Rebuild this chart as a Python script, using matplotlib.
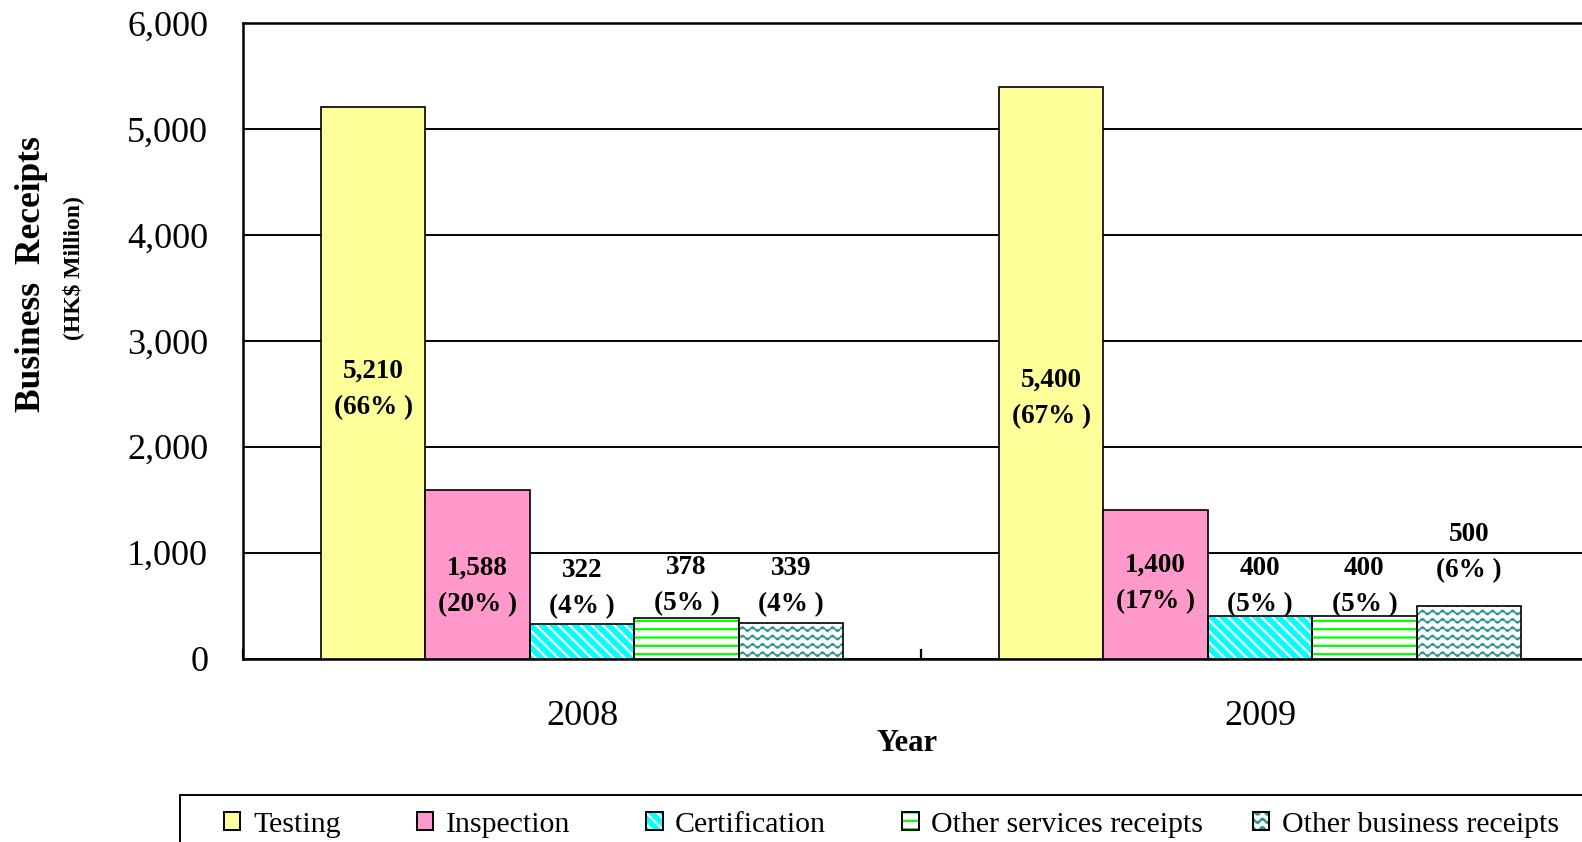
"""
Business receipts of testing, inspection and certification, 2008 vs 2009.
Writes out.png (1582x842).
"""

import warnings

import matplotlib
import numpy as np

matplotlib.use("Agg")
import matplotlib.hatch as mhatch
import matplotlib.patches as mpatches
import matplotlib.pyplot as plt
from matplotlib.legend_handler import HandlerTuple
from matplotlib.path import Path

warnings.filterwarnings("ignore")

# -- Data ---------------------------------------------------------------------
YEARS = ["2008", "2009"]
SERIES = [
    "Testing",
    "Inspection",
    "Certification",
    "Other services receipts",
    "Other business receipts",
]
VALUES_2008 = [5210, 1588, 322, 378, 339]
VALUES_2009 = [5400, 1400, 400, 400, 500]
PCT_2008 = [66, 20, 4, 5, 4]
PCT_2009 = [67, 17, 5, 5, 6]
# label centre heights (data units), as hand-placed in the original chart
LABEL_Y_2008 = [2545, 679, 660, 688, 679]
LABEL_Y_2009 = [2460, 707, 679, 679, 999]

# -- Styles -------------------------------------------------------------------
FACE = ["#FFFF99", "#FF99CC", "#00FFFF", "white", "white"]
HATCH = [None, None, "\\\\\\", "--", "~"]
HATCH_COLOR = [None, None, "white", "#00FF00", "#2E9494"]
HATCH_LW = [0, 0, 1.6, 1.6, 1.1]


# -- Wavy hatch (not built into matplotlib) -----------------------------------
class WaveHatch(mhatch.HatchPatternBase):
    rows = 12
    periods = 10
    steps = 8

    def __init__(self, hatch, density):
        n = hatch.count("~") if hatch else 0
        self.num_vertices = self.rows * (self.periods * self.steps + 1) if n else 0

    def set_vertices_and_codes(self, vertices, codes):
        per_row = self.periods * self.steps + 1
        xs = np.linspace(0.0, 1.0, per_row)
        wave = 0.022 * np.sin(2 * np.pi * self.periods * xs)
        for r in range(self.rows):
            y0 = (r + 0.5) / self.rows
            sl = slice(r * per_row, (r + 1) * per_row)
            vertices[sl, 0] = xs
            vertices[sl, 1] = y0 + wave
            codes[sl] = Path.LINETO
            codes[r * per_row] = Path.MOVETO


mhatch._hatch_types.append(WaveHatch)


def style_hatch(patch, lw):
    if hasattr(patch, "set_hatch_linewidth"):
        patch.set_hatch_linewidth(lw)


def main():
    plt.rcParams.update({"font.family": "Liberation Serif", "hatch.linewidth": 1.6})

    W, H = 1582, 842
    fig = plt.figure(figsize=(W / 100, H / 100), dpi=100)
    # plot area runs past the right edge, as in the original
    ax = fig.add_axes([243 / W, (H - 658.5) / H, 1356 / W, 635.5 / H])

    x = np.arange(len(YEARS))
    width = 0.154
    offsets = (np.arange(len(SERIES)) - 2) * width
    data = np.array([VALUES_2008, VALUES_2009]).T
    pcts = np.array([PCT_2008, PCT_2009]).T
    label_y = np.array([LABEL_Y_2008, LABEL_Y_2009]).T

    handles = []
    for i, name in enumerate(SERIES):
        if HATCH[i]:
            bars = ax.bar(x + offsets[i], data[i], width, color=FACE[i],
                          edgecolor=HATCH_COLOR[i], hatch=HATCH[i],
                          linewidth=0, zorder=3)
            for b in bars:
                style_hatch(b, HATCH_LW[i])
        ax.bar(x + offsets[i], data[i], width,
               facecolor="none" if HATCH[i] else FACE[i],
               edgecolor="black", linewidth=1.2, zorder=4)

        fill = mpatches.Patch(facecolor=FACE[i],
                              edgecolor=HATCH_COLOR[i] or FACE[i],
                              hatch=HATCH[i], linewidth=0)
        style_hatch(fill, HATCH_LW[i])
        edge = mpatches.Patch(facecolor="none", edgecolor="black", linewidth=1.4)
        handles.append((fill, edge))

        for j in range(len(YEARS)):
            ax.text(x[j] + offsets[i], label_y[i][j],
                    f"{data[i][j]:,}\n({pcts[i][j]}% )",
                    ha="center", va="center", fontsize=19.5, fontweight="bold",
                    linespacing=1.6, zorder=5)

    ax.set_xlim(-0.5, 1.5)
    ax.set_ylim(0, 6000)
    ax.set_yticks(np.arange(0, 6001, 1000))
    ax.set_yticklabels([f"{v:,}" for v in range(0, 6001, 1000)])
    ax.set_xticks(x)
    ax.set_xticklabels(YEARS)
    ax.set_xticks([-0.5, 0.5, 1.5], minor=True)
    ax.tick_params(axis="y", length=0, pad=25, labelsize=26)
    ax.tick_params(axis="x", which="major", length=0, pad=30, labelsize=26)
    ax.tick_params(axis="x", which="minor", direction="in", length=7, width=1.6)
    ax.yaxis.grid(True, color="black", linewidth=1.4, zorder=0)
    ax.set_axisbelow(True)
    for sp in ax.spines.values():
        sp.set_linewidth(1.8)

    ax.set_xlabel("Year", fontsize=22, fontweight="bold", labelpad=2)
    ax.xaxis.set_label_coords((907 - 243) / 1356, -(729 - 658.5) / 635.5)

    fig.text(32 / W, 1 - 274 / H, "Business  Receipts", rotation=90,
             ha="center", va="center", fontsize=25.5, fontweight="bold")
    fig.text(73 / W, 1 - 268 / H, "(HK$ Million)", rotation=90,
             ha="center", va="center", fontsize=17, fontweight="bold")

    # legend: first four entries evenly spaced, last one set a little closer
    leg_kw = dict(loc="upper left", frameon=False, fontsize=21.5,
                  borderpad=0, borderaxespad=0, handlelength=0.55,
                  handleheight=0.55, handletextpad=0.42, columnspacing=2.55,
                  handler_map={tuple: HandlerTuple(ndivide=1, pad=0)})
    fig.legend(handles[:4], SERIES[:4], ncol=4,
               bbox_to_anchor=(224 / W, 1 - 812 / H), **leg_kw)
    fig.legend(handles[4:], SERIES[4:], ncol=1,
               bbox_to_anchor=(1253 / W, 1 - 812 / H), **leg_kw)
    frame = mpatches.Rectangle((180 / W, -0.2), 2.0, 0.2 + (H - 795) / H,
                               transform=fig.transFigure, fill=False,
                               edgecolor="black", linewidth=1.4)
    fig.add_artist(frame)

    fig.savefig("out.png", dpi=100)
    plt.close(fig)


if __name__ == "__main__":
    main()
